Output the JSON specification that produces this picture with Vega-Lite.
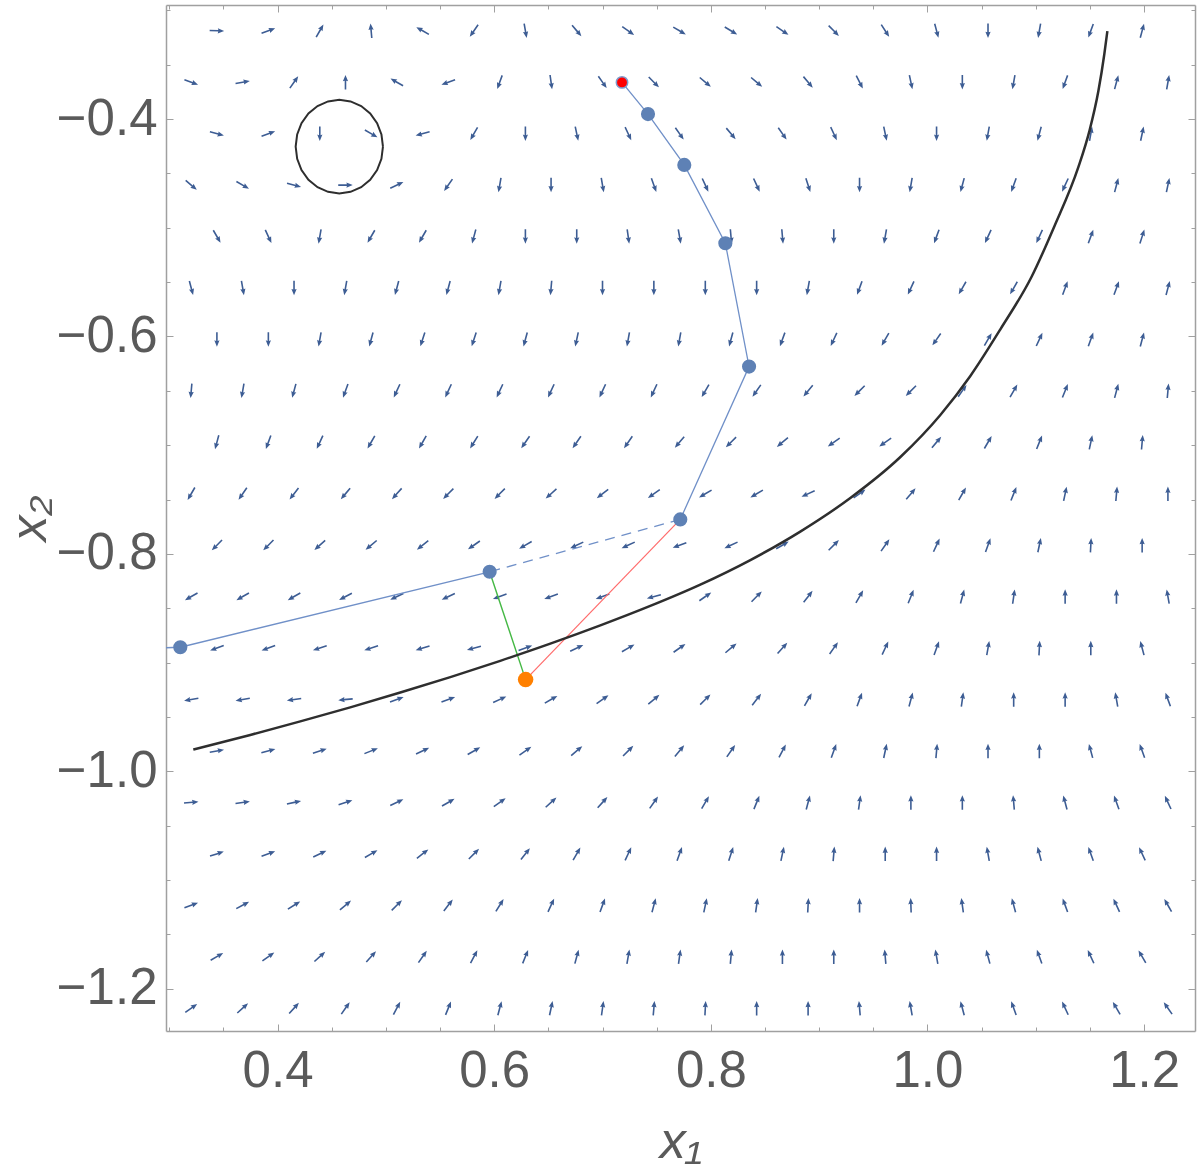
{
"$schema":"https://vega.github.io/schema/vega-lite/v6.json",
"width":1029,"height":1026,
"autosize":{"type":"none"},
"padding":{"left":166,"top":5,"right":5,"bottom":139},
"background":"white",
"config":{"view":{"stroke":null},"axis":{"grid":false,"domainColor":"#a0a0a0","domainWidth":1.5,"tickColor":"#a0a0a0","tickWidth":1,"labelFont":"Liberation Sans","labelFontSize":51,"labelColor":"#5a5a5a","titleFont":"Liberation Sans","titleFontSize":52,"titleColor":"#5a5a5a","titleFontWeight":"normal","titleFontStyle":"italic"}},
"datasets":{
"field":[
{"x":0.3440,"y":-0.3187,"a":92},{"x":0.3915,"y":-0.3187,"a":70},{"x":0.4390,"y":-0.3187,"a":30},{"x":0.4864,"y":-0.3187,"a":355},{"x":0.5339,"y":-0.3187,"a":300},{"x":0.5813,"y":-0.3187,"a":215},{"x":0.6288,"y":-0.3187,"a":170},{"x":0.6762,"y":-0.3187,"a":140},{"x":0.7237,"y":-0.3187,"a":125},{"x":0.7711,"y":-0.3187,"a":120},{"x":0.8186,"y":-0.3187,"a":121},{"x":0.8661,"y":-0.3187,"a":124},{"x":0.9135,"y":-0.3187,"a":135},{"x":0.9610,"y":-0.3187,"a":147},{"x":1.0084,"y":-0.3187,"a":165},{"x":1.0559,"y":-0.3187,"a":180},{"x":1.1033,"y":-0.3187,"a":190},{"x":1.1508,"y":-0.3187,"a":200},{"x":1.1982,"y":-0.3187,"a":15},
{"x":0.3203,"y":-0.3660,"a":110},{"x":0.3678,"y":-0.3660,"a":80},{"x":0.4152,"y":-0.3660,"a":35},{"x":0.4627,"y":-0.3660,"a":0},{"x":0.5101,"y":-0.3660,"a":300},{"x":0.5576,"y":-0.3660,"a":250},{"x":0.6051,"y":-0.3660,"a":200},{"x":0.6525,"y":-0.3660,"a":172},{"x":0.7000,"y":-0.3660,"a":145},{"x":0.7474,"y":-0.3660,"a":135},{"x":0.7949,"y":-0.3660,"a":130},{"x":0.8423,"y":-0.3660,"a":130},{"x":0.8898,"y":-0.3660,"a":140},{"x":0.9373,"y":-0.3660,"a":153},{"x":0.9847,"y":-0.3660,"a":168},{"x":1.0322,"y":-0.3660,"a":180},{"x":1.0796,"y":-0.3660,"a":190},{"x":1.1271,"y":-0.3660,"a":200},{"x":1.1745,"y":-0.3660,"a":15},{"x":1.2220,"y":-0.3660,"a":10},
{"x":0.3440,"y":-0.4134,"a":105},{"x":0.3915,"y":-0.4134,"a":70},{"x":0.4390,"y":-0.4134,"a":180},{"x":0.4864,"y":-0.4134,"a":120},{"x":0.5339,"y":-0.4134,"a":255},{"x":0.5813,"y":-0.4134,"a":210},{"x":0.6288,"y":-0.4134,"a":180},{"x":0.6762,"y":-0.4134,"a":168},{"x":0.7237,"y":-0.4134,"a":155},{"x":0.7711,"y":-0.4134,"a":145},{"x":0.8186,"y":-0.4134,"a":140},{"x":0.8661,"y":-0.4134,"a":145},{"x":0.9135,"y":-0.4134,"a":155},{"x":0.9610,"y":-0.4134,"a":168},{"x":1.0084,"y":-0.4134,"a":180},{"x":1.0559,"y":-0.4134,"a":190},{"x":1.1033,"y":-0.4134,"a":195},{"x":1.1508,"y":-0.4134,"a":10},{"x":1.1982,"y":-0.4134,"a":12},
{"x":0.3203,"y":-0.4607,"a":130},{"x":0.3678,"y":-0.4607,"a":120},{"x":0.4152,"y":-0.4607,"a":105},{"x":0.4627,"y":-0.4607,"a":90},{"x":0.5101,"y":-0.4607,"a":65},{"x":0.5576,"y":-0.4607,"a":215},{"x":0.6051,"y":-0.4607,"a":190},{"x":0.6525,"y":-0.4607,"a":180},{"x":0.7000,"y":-0.4607,"a":170},{"x":0.7474,"y":-0.4607,"a":160},{"x":0.7949,"y":-0.4607,"a":155},{"x":0.8423,"y":-0.4607,"a":155},{"x":0.8898,"y":-0.4607,"a":162},{"x":0.9373,"y":-0.4607,"a":180},{"x":0.9847,"y":-0.4607,"a":190},{"x":1.0322,"y":-0.4607,"a":195},{"x":1.0796,"y":-0.4607,"a":200},{"x":1.1271,"y":-0.4607,"a":205},{"x":1.1745,"y":-0.4607,"a":15},{"x":1.2220,"y":-0.4607,"a":12},
{"x":0.3440,"y":-0.5080,"a":150},{"x":0.3915,"y":-0.5080,"a":155},{"x":0.4390,"y":-0.5080,"a":190},{"x":0.4864,"y":-0.5080,"a":210},{"x":0.5339,"y":-0.5080,"a":210},{"x":0.5813,"y":-0.5080,"a":195},{"x":0.6288,"y":-0.5080,"a":180},{"x":0.6762,"y":-0.5080,"a":180},{"x":0.7237,"y":-0.5080,"a":172},{"x":0.7711,"y":-0.5080,"a":170},{"x":0.8186,"y":-0.5080,"a":175},{"x":0.8661,"y":-0.5080,"a":175},{"x":0.9135,"y":-0.5080,"a":180},{"x":0.9610,"y":-0.5080,"a":190},{"x":1.0084,"y":-0.5080,"a":200},{"x":1.0559,"y":-0.5080,"a":205},{"x":1.1033,"y":-0.5080,"a":205},{"x":1.1508,"y":-0.5080,"a":20},{"x":1.1982,"y":-0.5080,"a":18},
{"x":0.3203,"y":-0.5554,"a":165},{"x":0.3678,"y":-0.5554,"a":170},{"x":0.4152,"y":-0.5554,"a":180},{"x":0.4627,"y":-0.5554,"a":190},{"x":0.5101,"y":-0.5554,"a":195},{"x":0.5576,"y":-0.5554,"a":195},{"x":0.6051,"y":-0.5554,"a":190},{"x":0.6525,"y":-0.5554,"a":185},{"x":0.7000,"y":-0.5554,"a":180},{"x":0.7474,"y":-0.5554,"a":180},{"x":0.7949,"y":-0.5554,"a":180},{"x":0.8423,"y":-0.5554,"a":180},{"x":0.8898,"y":-0.5554,"a":190},{"x":0.9373,"y":-0.5554,"a":200},{"x":0.9847,"y":-0.5554,"a":205},{"x":1.0322,"y":-0.5554,"a":210},{"x":1.0796,"y":-0.5554,"a":210},{"x":1.1271,"y":-0.5554,"a":20},{"x":1.1745,"y":-0.5554,"a":20},{"x":1.2220,"y":-0.5554,"a":15},
{"x":0.3440,"y":-0.6027,"a":180},{"x":0.3915,"y":-0.6027,"a":180},{"x":0.4390,"y":-0.6027,"a":190},{"x":0.4864,"y":-0.6027,"a":195},{"x":0.5339,"y":-0.6027,"a":198},{"x":0.5813,"y":-0.6027,"a":198},{"x":0.6288,"y":-0.6027,"a":195},{"x":0.6762,"y":-0.6027,"a":192},{"x":0.7237,"y":-0.6027,"a":190},{"x":0.7711,"y":-0.6027,"a":190},{"x":0.8186,"y":-0.6027,"a":195},{"x":0.8661,"y":-0.6027,"a":200},{"x":0.9135,"y":-0.6027,"a":205},{"x":0.9610,"y":-0.6027,"a":210},{"x":1.0084,"y":-0.6027,"a":215},{"x":1.0559,"y":-0.6027,"a":30},{"x":1.1033,"y":-0.6027,"a":25},{"x":1.1508,"y":-0.6027,"a":20},{"x":1.1982,"y":-0.6027,"a":15},
{"x":0.3203,"y":-0.6500,"a":185},{"x":0.3678,"y":-0.6500,"a":190},{"x":0.4152,"y":-0.6500,"a":195},{"x":0.4627,"y":-0.6500,"a":200},{"x":0.5101,"y":-0.6500,"a":205},{"x":0.5576,"y":-0.6500,"a":205},{"x":0.6051,"y":-0.6500,"a":205},{"x":0.6525,"y":-0.6500,"a":205},{"x":0.7000,"y":-0.6500,"a":205},{"x":0.7474,"y":-0.6500,"a":205},{"x":0.7949,"y":-0.6500,"a":210},{"x":0.8423,"y":-0.6500,"a":215},{"x":0.8898,"y":-0.6500,"a":220},{"x":0.9373,"y":-0.6500,"a":225},{"x":0.9847,"y":-0.6500,"a":225},{"x":1.0322,"y":-0.6500,"a":35},{"x":1.0796,"y":-0.6500,"a":30},{"x":1.1271,"y":-0.6500,"a":22},{"x":1.1745,"y":-0.6500,"a":15},{"x":1.2220,"y":-0.6500,"a":5},
{"x":0.3440,"y":-0.6973,"a":195},{"x":0.3915,"y":-0.6973,"a":200},{"x":0.4390,"y":-0.6973,"a":205},{"x":0.4864,"y":-0.6973,"a":210},{"x":0.5339,"y":-0.6973,"a":210},{"x":0.5813,"y":-0.6973,"a":212},{"x":0.6288,"y":-0.6973,"a":215},{"x":0.6762,"y":-0.6973,"a":215},{"x":0.7237,"y":-0.6973,"a":215},{"x":0.7711,"y":-0.6973,"a":220},{"x":0.8186,"y":-0.6973,"a":225},{"x":0.8661,"y":-0.6973,"a":230},{"x":0.9135,"y":-0.6973,"a":235},{"x":0.9610,"y":-0.6973,"a":235},{"x":1.0084,"y":-0.6973,"a":40},{"x":1.0559,"y":-0.6973,"a":30},{"x":1.1033,"y":-0.6973,"a":22},{"x":1.1508,"y":-0.6973,"a":12},{"x":1.1982,"y":-0.6973,"a":5},
{"x":0.3203,"y":-0.7447,"a":210},{"x":0.3678,"y":-0.7447,"a":215},{"x":0.4152,"y":-0.7447,"a":218},{"x":0.4627,"y":-0.7447,"a":220},{"x":0.5101,"y":-0.7447,"a":222},{"x":0.5576,"y":-0.7447,"a":225},{"x":0.6051,"y":-0.7447,"a":225},{"x":0.6525,"y":-0.7447,"a":228},{"x":0.7000,"y":-0.7447,"a":232},{"x":0.7474,"y":-0.7447,"a":235},{"x":0.7949,"y":-0.7447,"a":240},{"x":0.8423,"y":-0.7447,"a":240},{"x":0.8898,"y":-0.7447,"a":245},{"x":0.9373,"y":-0.7447,"a":55},{"x":0.9847,"y":-0.7447,"a":40},{"x":1.0322,"y":-0.7447,"a":30},{"x":1.0796,"y":-0.7447,"a":22},{"x":1.1271,"y":-0.7447,"a":12},{"x":1.1745,"y":-0.7447,"a":5},{"x":1.2220,"y":-0.7447,"a":0},
{"x":0.3440,"y":-0.7920,"a":225},{"x":0.3915,"y":-0.7920,"a":225},{"x":0.4390,"y":-0.7920,"a":228},{"x":0.4864,"y":-0.7920,"a":230},{"x":0.5339,"y":-0.7920,"a":232},{"x":0.5813,"y":-0.7920,"a":235},{"x":0.6288,"y":-0.7920,"a":240},{"x":0.6762,"y":-0.7920,"a":245},{"x":0.7237,"y":-0.7920,"a":245},{"x":0.7711,"y":-0.7920,"a":250},{"x":0.8186,"y":-0.7920,"a":245},{"x":0.8661,"y":-0.7920,"a":60},{"x":0.9135,"y":-0.7920,"a":45},{"x":0.9610,"y":-0.7920,"a":35},{"x":1.0084,"y":-0.7920,"a":25},{"x":1.0559,"y":-0.7920,"a":20},{"x":1.1033,"y":-0.7920,"a":12},{"x":1.1508,"y":-0.7920,"a":3},{"x":1.1982,"y":-0.7920,"a":0},
{"x":0.3203,"y":-0.8393,"a":240},{"x":0.3678,"y":-0.8393,"a":240},{"x":0.4152,"y":-0.8393,"a":240},{"x":0.4627,"y":-0.8393,"a":242},{"x":0.5101,"y":-0.8393,"a":245},{"x":0.5576,"y":-0.8393,"a":245},{"x":0.6051,"y":-0.8393,"a":250},{"x":0.6525,"y":-0.8393,"a":250},{"x":0.7000,"y":-0.8393,"a":250},{"x":0.7474,"y":-0.8393,"a":255},{"x":0.7949,"y":-0.8393,"a":55},{"x":0.8423,"y":-0.8393,"a":45},{"x":0.8898,"y":-0.8393,"a":38},{"x":0.9373,"y":-0.8393,"a":30},{"x":0.9847,"y":-0.8393,"a":22},{"x":1.0322,"y":-0.8393,"a":15},{"x":1.0796,"y":-0.8393,"a":8},{"x":1.1271,"y":-0.8393,"a":0},{"x":1.1745,"y":-0.8393,"a":0},{"x":1.2220,"y":-0.8393,"a":350},
{"x":0.3440,"y":-0.8867,"a":250},{"x":0.3915,"y":-0.8867,"a":250},{"x":0.4390,"y":-0.8867,"a":252},{"x":0.4864,"y":-0.8867,"a":252},{"x":0.5339,"y":-0.8867,"a":253},{"x":0.5813,"y":-0.8867,"a":255},{"x":0.6288,"y":-0.8867,"a":70},{"x":0.6762,"y":-0.8867,"a":65},{"x":0.7237,"y":-0.8867,"a":60},{"x":0.7711,"y":-0.8867,"a":55},{"x":0.8186,"y":-0.8867,"a":50},{"x":0.8661,"y":-0.8867,"a":42},{"x":0.9135,"y":-0.8867,"a":35},{"x":0.9610,"y":-0.8867,"a":25},{"x":1.0084,"y":-0.8867,"a":20},{"x":1.0559,"y":-0.8867,"a":10},{"x":1.1033,"y":-0.8867,"a":3},{"x":1.1508,"y":-0.8867,"a":0},{"x":1.1982,"y":-0.8867,"a":345},
{"x":0.3203,"y":-0.9340,"a":260},{"x":0.3678,"y":-0.9340,"a":260},{"x":0.4152,"y":-0.9340,"a":262},{"x":0.4627,"y":-0.9340,"a":265},{"x":0.5101,"y":-0.9340,"a":70},{"x":0.5576,"y":-0.9340,"a":70},{"x":0.6051,"y":-0.9340,"a":65},{"x":0.6525,"y":-0.9340,"a":60},{"x":0.7000,"y":-0.9340,"a":55},{"x":0.7474,"y":-0.9340,"a":50},{"x":0.7949,"y":-0.9340,"a":45},{"x":0.8423,"y":-0.9340,"a":38},{"x":0.8898,"y":-0.9340,"a":30},{"x":0.9373,"y":-0.9340,"a":20},{"x":0.9847,"y":-0.9340,"a":15},{"x":1.0322,"y":-0.9340,"a":8},{"x":1.0796,"y":-0.9340,"a":0},{"x":1.1271,"y":-0.9340,"a":0},{"x":1.1745,"y":-0.9340,"a":350},{"x":1.2220,"y":-0.9340,"a":340},
{"x":0.3440,"y":-0.9813,"a":80},{"x":0.3915,"y":-0.9813,"a":75},{"x":0.4390,"y":-0.9813,"a":72},{"x":0.4864,"y":-0.9813,"a":68},{"x":0.5339,"y":-0.9813,"a":65},{"x":0.5813,"y":-0.9813,"a":60},{"x":0.6288,"y":-0.9813,"a":55},{"x":0.6762,"y":-0.9813,"a":50},{"x":0.7237,"y":-0.9813,"a":45},{"x":0.7711,"y":-0.9813,"a":40},{"x":0.8186,"y":-0.9813,"a":35},{"x":0.8661,"y":-0.9813,"a":28},{"x":0.9135,"y":-0.9813,"a":20},{"x":0.9610,"y":-0.9813,"a":12},{"x":1.0084,"y":-0.9813,"a":5},{"x":1.0559,"y":-0.9813,"a":0},{"x":1.1033,"y":-0.9813,"a":0},{"x":1.1508,"y":-0.9813,"a":345},{"x":1.1982,"y":-0.9813,"a":340},
{"x":0.3203,"y":-1.0287,"a":85},{"x":0.3678,"y":-1.0287,"a":82},{"x":0.4152,"y":-1.0287,"a":78},{"x":0.4627,"y":-1.0287,"a":72},{"x":0.5101,"y":-1.0287,"a":65},{"x":0.5576,"y":-1.0287,"a":60},{"x":0.6051,"y":-1.0287,"a":55},{"x":0.6525,"y":-1.0287,"a":48},{"x":0.7000,"y":-1.0287,"a":42},{"x":0.7474,"y":-1.0287,"a":35},{"x":0.7949,"y":-1.0287,"a":30},{"x":0.8423,"y":-1.0287,"a":22},{"x":0.8898,"y":-1.0287,"a":15},{"x":0.9373,"y":-1.0287,"a":8},{"x":0.9847,"y":-1.0287,"a":0},{"x":1.0322,"y":-1.0287,"a":0},{"x":1.0796,"y":-1.0287,"a":355},{"x":1.1271,"y":-1.0287,"a":345},{"x":1.1745,"y":-1.0287,"a":340},{"x":1.2220,"y":-1.0287,"a":335},
{"x":0.3440,"y":-1.0760,"a":72},{"x":0.3915,"y":-1.0760,"a":70},{"x":0.4390,"y":-1.0760,"a":65},{"x":0.4864,"y":-1.0760,"a":60},{"x":0.5339,"y":-1.0760,"a":52},{"x":0.5813,"y":-1.0760,"a":45},{"x":0.6288,"y":-1.0760,"a":38},{"x":0.6762,"y":-1.0760,"a":30},{"x":0.7237,"y":-1.0760,"a":25},{"x":0.7711,"y":-1.0760,"a":20},{"x":0.8186,"y":-1.0760,"a":18},{"x":0.8661,"y":-1.0760,"a":12},{"x":0.9135,"y":-1.0760,"a":5},{"x":0.9610,"y":-1.0760,"a":0},{"x":1.0084,"y":-1.0760,"a":0},{"x":1.0559,"y":-1.0760,"a":350},{"x":1.1033,"y":-1.0760,"a":345},{"x":1.1508,"y":-1.0760,"a":340},{"x":1.1982,"y":-1.0760,"a":335},
{"x":0.3203,"y":-1.1233,"a":70},{"x":0.3678,"y":-1.1233,"a":62},{"x":0.4152,"y":-1.1233,"a":58},{"x":0.4627,"y":-1.1233,"a":50},{"x":0.5101,"y":-1.1233,"a":45},{"x":0.5576,"y":-1.1233,"a":38},{"x":0.6051,"y":-1.1233,"a":32},{"x":0.6525,"y":-1.1233,"a":25},{"x":0.7000,"y":-1.1233,"a":20},{"x":0.7474,"y":-1.1233,"a":15},{"x":0.7949,"y":-1.1233,"a":12},{"x":0.8423,"y":-1.1233,"a":8},{"x":0.8898,"y":-1.1233,"a":3},{"x":0.9373,"y":-1.1233,"a":0},{"x":0.9847,"y":-1.1233,"a":358},{"x":1.0322,"y":-1.1233,"a":352},{"x":1.0796,"y":-1.1233,"a":345},{"x":1.1271,"y":-1.1233,"a":340},{"x":1.1745,"y":-1.1233,"a":335},{"x":1.2220,"y":-1.1233,"a":330},
{"x":0.3440,"y":-1.1706,"a":60},{"x":0.3915,"y":-1.1706,"a":55},{"x":0.4390,"y":-1.1706,"a":48},{"x":0.4864,"y":-1.1706,"a":42},{"x":0.5339,"y":-1.1706,"a":35},{"x":0.5813,"y":-1.1706,"a":28},{"x":0.6288,"y":-1.1706,"a":22},{"x":0.6762,"y":-1.1706,"a":15},{"x":0.7237,"y":-1.1706,"a":10},{"x":0.7711,"y":-1.1706,"a":8},{"x":0.8186,"y":-1.1706,"a":5},{"x":0.8661,"y":-1.1706,"a":0},{"x":0.9135,"y":-1.1706,"a":0},{"x":0.9610,"y":-1.1706,"a":355},{"x":1.0084,"y":-1.1706,"a":350},{"x":1.0559,"y":-1.1706,"a":345},{"x":1.1033,"y":-1.1706,"a":340},{"x":1.1508,"y":-1.1706,"a":335},{"x":1.1982,"y":-1.1706,"a":330},
{"x":0.3203,"y":-1.2180,"a":55},{"x":0.3678,"y":-1.2180,"a":48},{"x":0.4152,"y":-1.2180,"a":42},{"x":0.4627,"y":-1.2180,"a":35},{"x":0.5101,"y":-1.2180,"a":28},{"x":0.5576,"y":-1.2180,"a":22},{"x":0.6051,"y":-1.2180,"a":15},{"x":0.6525,"y":-1.2180,"a":12},{"x":0.7000,"y":-1.2180,"a":8},{"x":0.7474,"y":-1.2180,"a":5},{"x":0.7949,"y":-1.2180,"a":3},{"x":0.8423,"y":-1.2180,"a":0},{"x":0.8898,"y":-1.2180,"a":0},{"x":0.9373,"y":-1.2180,"a":355},{"x":0.9847,"y":-1.2180,"a":350},{"x":1.0322,"y":-1.2180,"a":345},{"x":1.0796,"y":-1.2180,"a":340},{"x":1.1271,"y":-1.2180,"a":335},{"x":1.1745,"y":-1.2180,"a":330},{"x":1.2220,"y":-1.2180,"a":325}
],
"traj":[
{"s":"b1","o":0,"x":0.7180,"y":-0.3662},{"s":"b1","o":1,"x":0.7420,"y":-0.3954},{"s":"b1","o":2,"x":0.7755,"y":-0.4421},{"s":"b1","o":3,"x":0.8134,"y":-0.5142},{"s":"b1","o":4,"x":0.8353,"y":-0.6277},{"s":"b1","o":5,"x":0.7718,"y":-0.7683},
{"s":"b2","o":0,"x":0.5958,"y":-0.8165},{"s":"b2","o":1,"x":0.3102,"y":-0.8859},{"s":"b2","o":2,"x":0.2500,"y":-0.8880},
{"s":"d","o":0,"x":0.7718,"y":-0.7683},{"s":"d","o":1,"x":0.5958,"y":-0.8165},
{"s":"g","o":0,"x":0.5958,"y":-0.8165},{"s":"g","o":1,"x":0.6290,"y":-0.9157},
{"s":"r","o":0,"x":0.6290,"y":-0.9157},{"s":"r","o":1,"x":0.7718,"y":-0.7683}
],
"pts":[
{"t":"start","x":0.7180,"y":-0.3662},
{"t":"blue","x":0.7420,"y":-0.3954},{"t":"blue","x":0.7755,"y":-0.4421},{"t":"blue","x":0.8134,"y":-0.5142},{"t":"blue","x":0.8353,"y":-0.6277},{"t":"blue","x":0.7718,"y":-0.7683},{"t":"blue","x":0.5958,"y":-0.8165},{"t":"blue","x":0.3102,"y":-0.8859},
{"t":"end","x":0.6290,"y":-0.9157}
],
"curve":[
{"x":0.3222,"y":-0.9801},{"x":0.3748,"y":-0.9666},{"x":0.4210,"y":-0.9541},{"x":0.4671,"y":-0.9412},{"x":0.5133,"y":-0.9276},{"x":0.5595,"y":-0.9134},{"x":0.6056,"y":-0.8984},{"x":0.6518,"y":-0.8826},{"x":0.6980,"y":-0.8658},{"x":0.7441,"y":-0.8479},{"x":0.7903,"y":-0.8283},{"x":0.8365,"y":-0.8057},{"x":0.8826,"y":-0.7795},{"x":0.9288,"y":-0.7486},{"x":0.9750,"y":-0.7109},{"x":1.0119,"y":-0.6722},{"x":1.0396,"y":-0.6363},{"x":1.0673,"y":-0.5934},{"x":1.0959,"y":-0.5455},{"x":1.1172,"y":-0.4985},{"x":1.1393,"y":-0.4442},{"x":1.1495,"y":-0.4110},{"x":1.1578,"y":-0.3742},{"x":1.1633,"y":-0.3401},{"x":1.1661,"y":-0.3190}
],
"ring":[
{"o":0,"x":0.4973,"y":-0.4253},{"o":1,"x":0.4959,"y":-0.4141},{"o":2,"x":0.4919,"y":-0.4037},{"o":3,"x":0.4855,"y":-0.3948},{"o":4,"x":0.4772,"y":-0.3880},{"o":5,"x":0.4674,"y":-0.3837},{"o":6,"x":0.4570,"y":-0.3822},{"o":7,"x":0.4466,"y":-0.3837},{"o":8,"x":0.4369,"y":-0.3880},{"o":9,"x":0.4285,"y":-0.3948},{"o":10,"x":0.4221,"y":-0.4037},{"o":11,"x":0.4181,"y":-0.4141},{"o":12,"x":0.4167,"y":-0.4253},{"o":13,"x":0.4181,"y":-0.4365},{"o":14,"x":0.4221,"y":-0.4469},{"o":15,"x":0.4285,"y":-0.4558},{"o":16,"x":0.4369,"y":-0.4626},{"o":17,"x":0.4466,"y":-0.4669},{"o":18,"x":0.4570,"y":-0.4684},{"o":19,"x":0.4674,"y":-0.4669},{"o":20,"x":0.4772,"y":-0.4626},{"o":21,"x":0.4855,"y":-0.4558},{"o":22,"x":0.4919,"y":-0.4469},{"o":23,"x":0.4959,"y":-0.4365},{"o":24,"x":0.4973,"y":-0.4253}
]
},
"layer":[
{"data":{"name":"field"},
 "mark":{"type":"point","shape":"M0,-1L0.36,-0.12L0.11,-0.2L0.11,1L-0.11,1L-0.11,-0.2L-0.36,-0.12Z","filled":true,"fill":"#3d5d94","opacity":1,"size":210,"strokeWidth":0},
 "encoding":{
  "x":{"field":"x","type":"quantitative","scale":{"domain":[0.297,1.247],"nice":false,"zero":false},"axis":{"orient":"bottom","values":[0.4,0.6,0.8,1.0,1.2],"format":".1f","tickSize":-7,"labelPadding":22,"labelFlush":false,"labelOverlap":false,"title":"x₁","titleX":514.5,"titleY":126,"titleBaseline":"alphabetic","titleAlign":"center"}},
  "y":{"field":"y","type":"quantitative","scale":{"domain":[-1.239,-0.295],"nice":false,"zero":false},"axis":{"orient":"left","values":[-0.4,-0.6,-0.8,-1.0,-1.2],"format":".1f","tickSize":-7,"labelPadding":16,"labelFlush":false,"labelOverlap":false,"title":"x₂","titleX":-121,"titleY":513,"titleAngle":270,"titleBaseline":"alphabetic","titleAlign":"center"}},
  "angle":{"field":"a","type":"quantitative","scale":null}}},
{"data":{"name":"traj"},"transform":[{"filter":"datum.s=='b1'||datum.s=='b2'"}],
 "mark":{"type":"line","color":"#7090c8","strokeWidth":1.3,"clip":true},
 "encoding":{
  "x":{"field":"x","type":"quantitative","scale":{"domain":[0.297,1.247],"nice":false,"zero":false},"axis":{"orient":"bottom","values":[0.3,0.35,0.45,0.5,0.55,0.65,0.7,0.75,0.85,0.9,0.95,1.05,1.1,1.15],"labels":false,"domain":false,"tickSize":-4,"title":null}},
  "y":{"field":"y","type":"quantitative","scale":{"domain":[-1.239,-0.295],"nice":false,"zero":false},"axis":{"orient":"left","values":[-0.3,-0.35,-0.45,-0.5,-0.55,-0.65,-0.7,-0.75,-0.85,-0.9,-0.95,-1.05,-1.1,-1.15],"labels":false,"domain":false,"tickSize":-4,"title":null}},
  "order":{"field":"o","type":"quantitative"},
  "detail":{"field":"s","type":"nominal"}}},
{"data":{"name":"traj"},"transform":[{"filter":"datum.s=='d'"}],
 "mark":{"type":"line","color":"#7090c8","strokeWidth":1.3,"strokeDash":[10,7]},
 "encoding":{"x":{"field":"x","type":"quantitative","axis":null},"y":{"field":"y","type":"quantitative","axis":null},"order":{"field":"o","type":"quantitative"}}},
{"data":{"name":"traj"},"transform":[{"filter":"datum.s=='g'"}],
 "mark":{"type":"line","color":"#44b844","strokeWidth":1.4},
 "encoding":{"x":{"field":"x","type":"quantitative","axis":null},"y":{"field":"y","type":"quantitative","axis":null},"order":{"field":"o","type":"quantitative"}}},
{"data":{"name":"traj"},"transform":[{"filter":"datum.s=='r'"}],
 "mark":{"type":"line","color":"#ff6a6a","strokeWidth":1.2},
 "encoding":{"x":{"field":"x","type":"quantitative","axis":null},"y":{"field":"y","type":"quantitative","axis":null},"order":{"field":"o","type":"quantitative"}}},
{"data":{"name":"curve"},
 "mark":{"type":"line","color":"#2e2e2e","strokeWidth":2.5,"interpolate":"monotone"},
 "encoding":{
  "x":{"field":"x","type":"quantitative","scale":{"domain":[0.297,1.247],"nice":false,"zero":false},"axis":{"orient":"top","values":[0.4,0.6,0.8,1.0,1.2],"labels":false,"tickSize":-7,"title":null}},
  "y":{"field":"y","type":"quantitative","scale":{"domain":[-1.239,-0.295],"nice":false,"zero":false},"axis":{"orient":"right","values":[-0.4,-0.6,-0.8,-1.0,-1.2],"labels":false,"tickSize":-7,"title":null}}}},
{"data":{"name":"ring"},
 "mark":{"type":"line","color":"#2e2e2e","strokeWidth":2},
 "encoding":{
  "x":{"field":"x","type":"quantitative","scale":{"domain":[0.297,1.247],"nice":false,"zero":false},"axis":{"orient":"top","values":[0.3,0.35,0.45,0.5,0.55,0.65,0.7,0.75,0.85,0.9,0.95,1.05,1.1,1.15],"labels":false,"domain":false,"tickSize":-4,"title":null}},
  "y":{"field":"y","type":"quantitative","scale":{"domain":[-1.239,-0.295],"nice":false,"zero":false},"axis":{"orient":"right","values":[-0.3,-0.35,-0.45,-0.5,-0.55,-0.65,-0.7,-0.75,-0.85,-0.9,-0.95,-1.05,-1.1,-1.15],"labels":false,"domain":false,"tickSize":-4,"title":null}},
  "order":{"field":"o","type":"quantitative"}}},
{"data":{"name":"pts"},"transform":[{"filter":"datum.t=='blue'"}],
 "mark":{"type":"point","shape":"circle","filled":true,"fill":"#5e81b5","opacity":1,"size":200,"strokeWidth":0},
 "encoding":{"x":{"field":"x","type":"quantitative","axis":null},"y":{"field":"y","type":"quantitative","axis":null}}},
{"data":{"name":"pts"},"transform":[{"filter":"datum.t=='start'"}],
 "mark":{"type":"point","shape":"circle","filled":true,"fill":"#ff0000","stroke":"#7f9bcc","strokeWidth":1.5,"opacity":1,"size":130},
 "encoding":{"x":{"field":"x","type":"quantitative","axis":null},"y":{"field":"y","type":"quantitative","axis":null}}},
{"data":{"name":"pts"},"transform":[{"filter":"datum.t=='end'"}],
 "mark":{"type":"point","shape":"circle","filled":true,"fill":"#ff8000","opacity":1,"size":240,"strokeWidth":0},
 "encoding":{"x":{"field":"x","type":"quantitative","axis":null},"y":{"field":"y","type":"quantitative","axis":null}}}
],
"resolve":{"axis":{"x":"independent","y":"independent"}}
}
